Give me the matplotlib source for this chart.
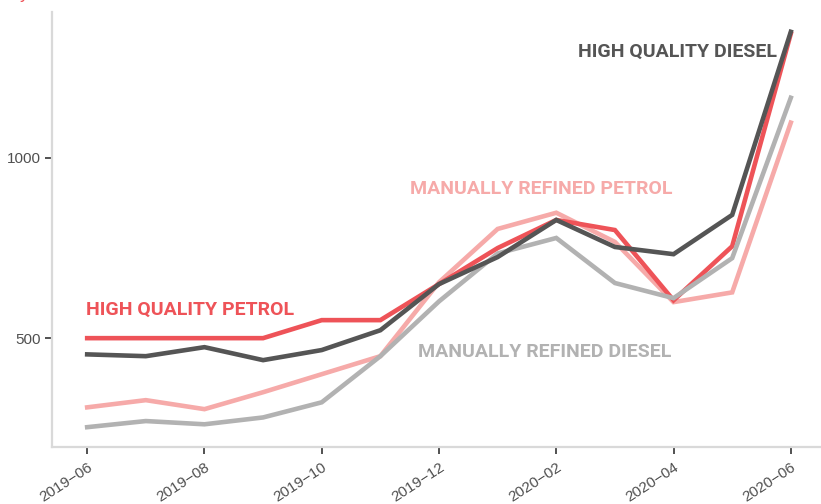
import matplotlib
matplotlib.use("Agg")
import matplotlib.pyplot as plt
from matplotlib.transforms import ScaledTranslation

months = ["2019-06", "2019-07", "2019-08", "2019-09", "2019-10", "2019-11", "2019-12",
          "2020-01", "2020-02", "2020-03", "2020-04", "2020-05", "2020-06"]
tick_labels = ["2019\u221206", "2019\u221208", "2019\u221210", "2019\u221212",
               "2020\u221202", "2020\u221204", "2020\u221206"]

hq_petrol = [500, 500, 500, 500, 550, 550, 650, 750, 828, 800, 605, 755, 1345]
hq_diesel = [455, 450, 475, 439, 467, 522, 650, 725, 828, 753, 733, 842, 1350]
mr_petrol = [308, 328, 303, 350, 400, 450, 655, 803, 848, 767, 600, 627, 1098]
mr_diesel = [253, 270, 261, 280, 322, 450, 602, 735, 778, 653, 611, 722, 1167]

c_red = "#EE5358"
c_dark = "#555555"
c_pink = "#F6AAA9"
c_grey = "#B2B2B2"

plt.rcParams['font.family'] = ['Liberation Sans', 'DejaVu Sans']
label_font = ['Roboto', 'DejaVu Sans']

fig = plt.figure(figsize=(8.21, 5.04), dpi=100)
ax = fig.add_axes([52 / 821, 57 / 504, 774 / 821, 435 / 504])

x = list(range(len(months)))
lw = 3.3
ax.plot(x, mr_petrol, color=c_pink, lw=lw, solid_joinstyle='miter')
ax.plot(x, hq_petrol, color=c_red, lw=lw, solid_joinstyle='miter')
ax.plot(x, mr_diesel, color=c_grey, lw=lw, solid_joinstyle='miter')
ax.plot(x, hq_diesel, color=c_dark, lw=lw, solid_joinstyle='miter')

ax.set_xlim(-0.6, 12.6)
ax.set_ylim(198, 1405)

ax.set_xticks(x[::2])
ax.set_xticklabels(tick_labels, rotation=33, ha='right', va='top',
                   rotation_mode='anchor', fontsize=11, color="#505050")
shift = ScaledTranslation(5 / 100, 0, fig.dpi_scale_trans)
for lab in ax.get_xticklabels():
    lab.set_transform(lab.get_transform() + shift)
ax.set_yticks([500, 1000])
ax.set_yticklabels(["500", "1000"], fontsize=11, color="#505050")
ax.tick_params(axis='both', length=5, width=1.2, color="#333333")
ax.tick_params(axis='x', pad=4.5)
ax.tick_params(axis='y', pad=3)

for side in ['top', 'right']:
    ax.spines[side].set_visible(False)
for side in ['left', 'bottom']:
    ax.spines[side].set_color("#D9D9D9")
    ax.spines[side].set_linewidth(1.6)

kw = dict(fontsize=14, fontweight='bold', family=label_font, va='center', ha='left')
ax.text(-0.02, 578, "HIGH QUALITY PETROL", color=c_red, **kw)
ax.text(5.5, 914, "MANUALLY REFINED PETROL", color=c_pink, **kw)
ax.text(5.64, 461, "MANUALLY REFINED DIESEL", color=c_grey, **kw)
ax.text(8.37, 1294, "HIGH QUALITY DIESEL", color=c_dark, **kw)

fig.text(20 / 821, 1 + 2 / 504, "y", color=c_red, fontsize=13, va='baseline', ha='left')

fig.savefig("out.png", dpi=100)
